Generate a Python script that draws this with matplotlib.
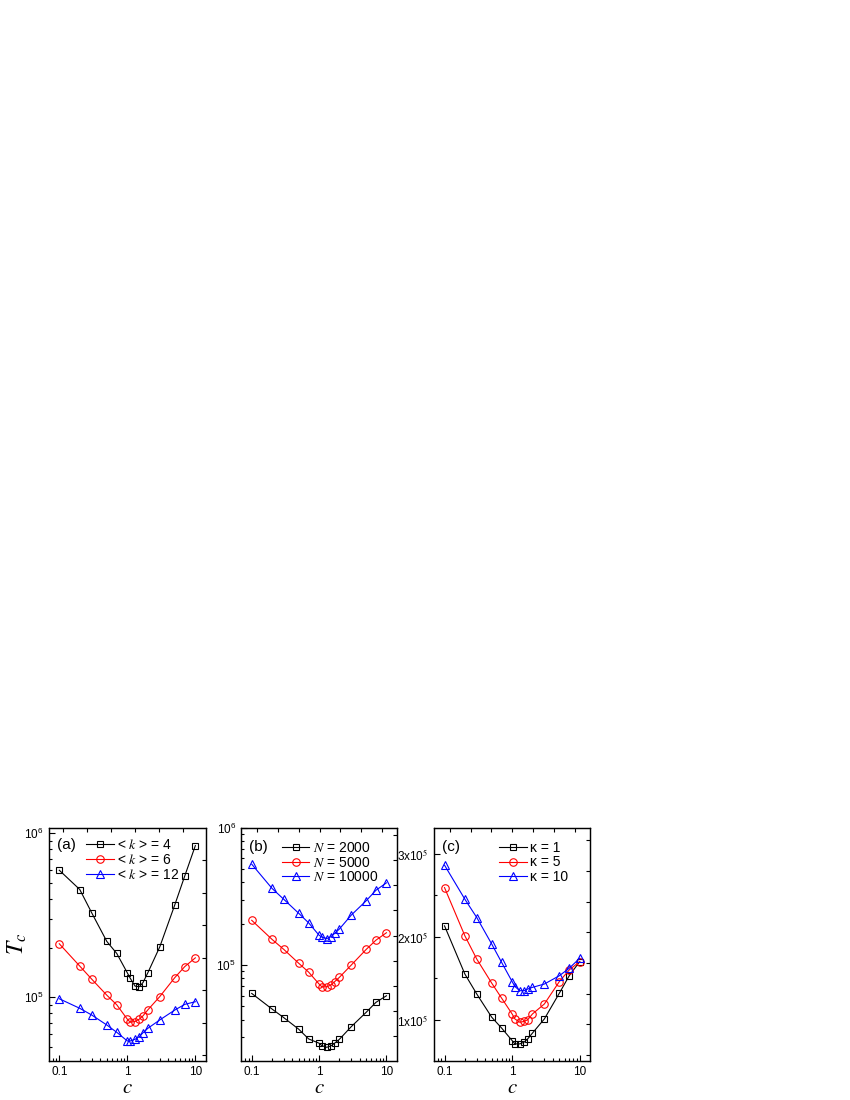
import numpy as np
import matplotlib
matplotlib.use('Agg')
import matplotlib.pyplot as plt
from matplotlib.ticker import LogLocator, MultipleLocator, NullFormatter

plt.rcParams['font.family'] = ['Liberation Sans', 'DejaVu Sans']
plt.rcParams['mathtext.fontset'] = 'stix'

# x 轴: c
c_vals = [0.1, 0.2, 0.3, 0.5, 0.7, 1.0, 1.1, 1.3, 1.5, 1.7, 2.0, 3.0, 5.0, 7.0, 10.0]

# (a) 不同平均度 <k>
a_k4 = [5.95e5, 4.54e5, 3.27e5, 2.19e5, 1.85e5, 1.41e5, 1.31e5, 1.17e5, 1.16e5, 1.23e5, 1.41e5, 2.03e5, 3.67e5, 5.5e5, 8.4e5]
a_k6 = [2.12e5, 1.55e5, 1.29e5, 1.03e5, 9.0e4, 7.36e4, 7.06e4, 7.12e4, 7.36e4, 7.71e4, 8.38e4, 1.01e5, 1.32e5, 1.54e5, 1.74e5]
a_k12 = [9.8e4, 8.57e4, 7.8e4, 6.78e4, 6.12e4, 5.42e4, 5.42e4, 5.55e4, 5.76e4, 6.08e4, 6.47e4, 7.28e4, 8.37e4, 9.06e4, 9.4e4]

# (b) 不同网络规模 N
b_n2000 = [6.22e4, 4.79e4, 4.14e4, 3.41e4, 2.9e4, 2.7e4, 2.59e4, 2.52e4, 2.58e4, 2.7e4, 2.88e4, 3.56e4, 4.53e4, 5.36e4, 5.98e4]
b_n5000 = [2.12e5, 1.54e5, 1.3e5, 1.03e5, 8.89e4, 7.28e4, 6.95e4, 6.95e4, 7.16e4, 7.57e4, 8.14e4, 1.0e5, 1.3e5, 1.52e5, 1.72e5]
b_n10000 = [5.43e5, 3.62e5, 3.01e5, 2.38e5, 2.03e5, 1.65e5, 1.6e5, 1.56e5, 1.61e5, 1.7e5, 1.83e5, 2.31e5, 2.94e5, 3.51e5, 3.97e5]

# (c) 不同 kappa
c_k1 = [2.13e5, 1.55e5, 1.31e5, 1.03e5, 9.0e4, 7.5e4, 7.1e4, 7.1e4, 7.3e4, 7.7e4, 8.4e4, 1.01e5, 1.32e5, 1.53e5, 1.7e5]
c_k5 = [2.59e5, 2.01e5, 1.73e5, 1.44e5, 1.26e5, 1.07e5, 1.01e5, 9.7e4, 9.8e4, 1.0e5, 1.07e5, 1.19e5, 1.46e5, 1.6e5, 1.7e5]
c_k10 = [2.86e5, 2.45e5, 2.23e5, 1.91e5, 1.69e5, 1.46e5, 1.4e5, 1.35e5, 1.35e5, 1.37e5, 1.39e5, 1.43e5, 1.53e5, 1.62e5, 1.74e5]

labels_a = [r'< $k$ > = 4', r'< $k$ > = 6', r'< $k$ > = 12']
labels_b = [r'$N$ = 2000', r'$N$ = 5000', r'$N$ = 10000']
labels_c = ['κ = 1', 'κ = 5', 'κ = 10']

colors = ['black', '#ff0000', '#0000ff']
markers = ['s', 'o', '^']
msizes = [4.6, 5.4, 5.8]

fig = plt.figure(figsize=(8.5, 11), dpi=100)

# 面板位置 (figure fraction)
boxes = [[0.0576, 0.0359, 0.1844, 0.2116],
         [0.2841, 0.0359, 0.1826, 0.2116],
         [0.5109, 0.0359, 0.1832, 0.2116]]


def draw_panel(box, series, labels, tag, leg_xy, top_ticks, right_ticks):
    ax = fig.add_axes(box)
    for ys, col, mk, ms, lab in zip(series, colors, markers, msizes, labels):
        ax.plot(c_vals, ys, color=col, lw=0.8, marker=mk, ms=ms, mfc='none',
                mec=col, mew=0.8, label=lab)
    ax.set_xscale('log')
    ax.set_xlim(0.0705, 14.2)
    ax.set_xticks([0.1, 1, 10])
    ax.set_xticklabels(['0.1', '1', '10'])
    ax.xaxis.set_minor_locator(LogLocator(base=10, subs=np.arange(2, 10)))
    ax.xaxis.set_minor_formatter(NullFormatter())
    ax.tick_params(which='both', direction='in', labelsize=8.5, width=0.8)
    ax.tick_params(which='major', length=4, pad=4)
    ax.tick_params(which='minor', length=2)
    for s in ax.spines.values():
        s.set_linewidth(0.9)
    ax.set_xlabel(r'$c$', fontsize=15, labelpad=0)
    ax.text(0.05, leg_xy[1] + 0.066, tag, transform=ax.transAxes, fontsize=11,
            ha='left', va='center')
    ax.legend(loc='center left', bbox_to_anchor=leg_xy, frameon=False, fontsize=10,
              handlelength=2.0, handletextpad=0.25, labelspacing=0.05,
              borderpad=0, borderaxespad=0)

    # 上/右边框的等距刻度 (Origin 风格)
    tx = ax.twiny()
    tx.set_xlim(0, 1)
    tx.set_xticks(np.arange(top_ticks[0], 1, top_ticks[1]))
    tx.tick_params(direction='in', length=3, width=0.8, labeltop=False)
    ty = ax.twinx()
    ty.set_ylim(0, 1)
    ty.set_yticks(np.arange(right_ticks[0], 1, right_ticks[1]))
    ty.tick_params(direction='in', length=3, width=0.8, labelright=False)
    return ax


ax1 = draw_panel(boxes[0], [a_k4, a_k6, a_k12], labels_a, '(a)', (0.236, 0.862),
                 (0.087, 0.154), (0.0236, 0.1396))
ax1.set_yscale('log')
ax1.set_ylim(4.12e4, 1.08e6)
ax1.yaxis.set_minor_locator(LogLocator(base=10, subs=np.arange(2, 10)))
ax1.yaxis.set_minor_formatter(NullFormatter())
ax1.set_ylabel(r'$T_c$', fontsize=17)
ax1.yaxis.set_label_coords(-0.13, 0.5)

ax2 = draw_panel(boxes[1], [b_n2000, b_n5000, b_n10000], labels_b, '(b)', (0.259, 0.85),
                 (0.103, 0.1335), (0.105, 0.108))
ax2.set_yscale('log')
ax2.set_ylim(2.02e4, 1.0e6)
ax2.yaxis.set_minor_locator(LogLocator(base=10, subs=np.arange(2, 10)))
ax2.yaxis.set_minor_formatter(NullFormatter())

ax3 = draw_panel(boxes[2], [c_k1, c_k5, c_k10], labels_c, '(c)', (0.416, 0.851),
                 (0.1, 0.1335), (0.0236, 0.1318))
ax3.set_ylim(5.1e4, 3.31e5)
ax3.set_yticks([1e5, 2e5, 3e5])
ax3.set_yticklabels([r'1x10$^5$', r'2x10$^5$', r'3x10$^5$'])
ax3.yaxis.set_minor_locator(MultipleLocator(5e4))

fig.savefig('out.png', dpi=100)
